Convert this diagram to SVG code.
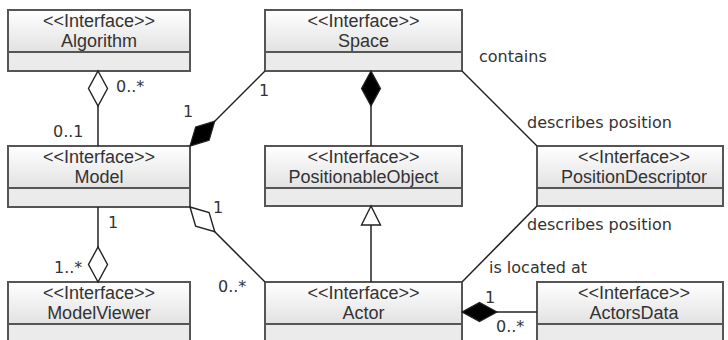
<svg xmlns="http://www.w3.org/2000/svg" width="728" height="340" viewBox="0 0 728 340">
  <defs>
    <linearGradient id="headFill" x1="0" y1="0" x2="0" y2="1">
      <stop offset="0" stop-color="#ffffff"/>
      <stop offset="1" stop-color="#e2e2e2"/>
    </linearGradient>
    <!-- composition: filled diamond, tip on the owning class -->
    <marker id="diamondFilled" markerUnits="userSpaceOnUse" markerWidth="40" markerHeight="24" viewBox="-2 -12 40 24" refX="0" refY="0" orient="auto" overflow="visible">
      <path d="M0,0 L17.5,-9.5 L35,0 L17.5,9.5 Z" fill="#000" stroke="#222" stroke-width="1.2" stroke-linejoin="miter"/>
    </marker>
    <!-- aggregation: hollow diamond -->
    <marker id="diamondHollow" markerUnits="userSpaceOnUse" markerWidth="40" markerHeight="24" viewBox="-2 -12 40 24" refX="0" refY="0" orient="auto" overflow="visible">
      <path d="M0,0 L17.5,-9.5 L35,0 L17.5,9.5 Z" fill="#fff" stroke="#222" stroke-width="1.4" stroke-linejoin="miter"/>
    </marker>
    <!-- generalization: hollow triangle -->
    <marker id="triangleHollow" markerUnits="userSpaceOnUse" markerWidth="24" markerHeight="24" viewBox="-2 -12 24 24" refX="0" refY="0" orient="auto" overflow="visible">
      <path d="M0,0 L19,-9.5 L19,9.5 Z" fill="#fff" stroke="#222" stroke-width="1.4" stroke-linejoin="miter"/>
    </marker>
  </defs>
  <style>
    .frame { fill: none; stroke: #555; stroke-width: 2; }
    .head { fill: url(#headFill); }
    .body { fill: #ebebeb; }
    .div { stroke: #555; stroke-width: 2; }
    .cls { font-family: "Liberation Sans", Arial, sans-serif; font-size: 18px; fill: #333; text-anchor: middle; }
    .lbl { font-family: "DejaVu Sans", Verdana, sans-serif; font-size: 16px; fill: #333; }
    .conn { fill: none; stroke: #222; stroke-width: 1.5; }
  </style>

  <rect x="0" y="0" width="728" height="340" fill="#fff"/>

  <!-- classes -->
  <g id="algorithm">
    <rect class="head" x="8" y="10" width="182" height="42"/>
    <rect class="body" x="8" y="52" width="182" height="19"/>
    <rect class="frame" x="8" y="10" width="182" height="61"/>
    <line class="div" x1="8" y1="52" x2="190" y2="52"/>
    <text class="cls" x="99" y="26.5">&lt;&lt;Interface&gt;&gt;</text>
    <text class="cls" x="99" y="47">Algorithm</text>
  </g>

  <g id="model">
    <rect class="head" x="8" y="146" width="182" height="42"/>
    <rect class="body" x="8" y="188" width="182" height="19"/>
    <rect class="frame" x="8" y="146" width="182" height="61"/>
    <line class="div" x1="8" y1="188" x2="190" y2="188"/>
    <text class="cls" x="99" y="162.5">&lt;&lt;Interface&gt;&gt;</text>
    <text class="cls" x="99" y="183">Model</text>
  </g>

  <g id="modelViewer">
    <rect class="head" x="8" y="282" width="182" height="42"/>
    <rect class="body" x="8" y="324" width="182" height="19"/>
    <rect class="frame" x="8" y="282" width="182" height="61"/>
    <line class="div" x1="8" y1="324" x2="190" y2="324"/>
    <text class="cls" x="99" y="298.5">&lt;&lt;Interface&gt;&gt;</text>
    <text class="cls" x="99" y="319">ModelViewer</text>
  </g>

  <g id="space">
    <rect class="head" x="265" y="10" width="197" height="42"/>
    <rect class="body" x="265" y="52" width="197" height="19"/>
    <rect class="frame" x="265" y="10" width="197" height="61"/>
    <line class="div" x1="265" y1="52" x2="462" y2="52"/>
    <text class="cls" x="363.5" y="26.5">&lt;&lt;Interface&gt;&gt;</text>
    <text class="cls" x="363.5" y="47">Space</text>
  </g>

  <g id="positionableObject">
    <rect class="head" x="265" y="146" width="197" height="42"/>
    <rect class="body" x="265" y="188" width="197" height="18"/>
    <rect class="frame" x="265" y="146" width="197" height="60"/>
    <line class="div" x1="265" y1="188" x2="462" y2="188"/>
    <text class="cls" x="363.5" y="162.5">&lt;&lt;Interface&gt;&gt;</text>
    <text class="cls" x="363.5" y="183">PositionableObject</text>
  </g>

  <g id="actor">
    <rect class="head" x="265" y="282" width="197" height="42"/>
    <rect class="body" x="265" y="324" width="197" height="19"/>
    <rect class="frame" x="265" y="282" width="197" height="61"/>
    <line class="div" x1="265" y1="324" x2="462" y2="324"/>
    <text class="cls" x="363.5" y="298.5">&lt;&lt;Interface&gt;&gt;</text>
    <text class="cls" x="363.5" y="319">Actor</text>
  </g>

  <g id="positionDescriptor">
    <rect class="head" x="537" y="146" width="186" height="42"/>
    <rect class="body" x="537" y="188" width="186" height="18"/>
    <rect class="frame" x="537" y="146" width="186" height="60"/>
    <line class="div" x1="537" y1="188" x2="723" y2="188"/>
    <text class="cls" x="634" y="162.5">&lt;&lt;Interface&gt;&gt;</text>
    <text class="cls" x="634" y="183">PositionDescriptor</text>
  </g>

  <g id="actorsData">
    <rect class="head" x="537" y="282" width="186" height="42"/>
    <rect class="body" x="537" y="324" width="186" height="19"/>
    <rect class="frame" x="537" y="282" width="186" height="61"/>
    <line class="div" x1="537" y1="324" x2="723" y2="324"/>
    <text class="cls" x="634" y="298.5">&lt;&lt;Interface&gt;&gt;</text>
    <text class="cls" x="634" y="319">ActorsData</text>
  </g>

  <!-- associations -->
  <g id="connectors">
    <!-- Model aggregates Algorithm -->
    <path class="conn" d="M98,71 L98,146" marker-start="url(#diamondHollow)"/>
    <text class="lbl" x="116" y="92">0..*</text>
    <text class="lbl" x="53" y="137">0..1</text>

    <!-- Model composed into Space -->
    <path class="conn" d="M190,146 L265,71" marker-start="url(#diamondFilled)"/>
    <text class="lbl" x="183" y="117">1</text>
    <text class="lbl" x="259" y="96">1</text>

    <!-- Space contains PositionableObject -->
    <path class="conn" d="M371,71 L371,146" marker-start="url(#diamondFilled)"/>

    <!-- Actor generalizes PositionableObject -->
    <path class="conn" d="M371,206 L371,282" marker-start="url(#triangleHollow)"/>

    <!-- Model aggregates Actor -->
    <path class="conn" d="M190,207 L265,282" marker-start="url(#diamondHollow)"/>
    <text class="lbl" x="213" y="213">1</text>
    <text class="lbl" x="218" y="292">0..*</text>

    <!-- ModelViewer aggregates Model -->
    <path class="conn" d="M98,282 L98,207" marker-start="url(#diamondHollow)"/>
    <text class="lbl" x="108" y="228">1</text>
    <text class="lbl" x="54" y="273">1..*</text>

    <!-- Space / PositionDescriptor -->
    <path class="conn" d="M462,71 L537,146"/>
    <text class="lbl" x="479" y="62">contains</text>
    <text class="lbl" x="527" y="128">describes position</text>

    <!-- Actor / PositionDescriptor -->
    <path class="conn" d="M462,282 L537,206"/>
    <text class="lbl" x="527" y="230">describes position</text>
    <text class="lbl" x="489" y="273">is located at</text>

    <!-- Actor composed of ActorsData -->
    <path class="conn" d="M462,312 L537,312" marker-start="url(#diamondFilled)"/>
    <text class="lbl" x="485" y="303">1</text>
    <text class="lbl" x="496" y="332">0..*</text>
  </g>
</svg>
